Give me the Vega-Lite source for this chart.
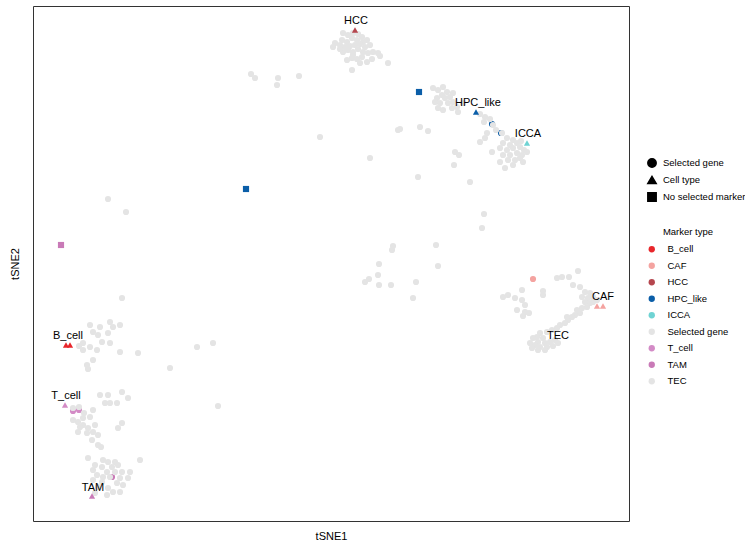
{
  "$schema": "https://vega.github.io/schema/vega-lite/v6.json",
  "width": 596,
  "height": 515,
  "autosize": {"type": "none"},
  "padding": {"left": 33, "top": 6, "right": 116, "bottom": 23},
  "config": {
    "font": "Liberation Sans",
    "view": {"stroke": "#333333", "strokeWidth": 1},
    "axis": {"labels": false, "ticks": false, "grid": false, "domain": false, "titleFontSize": 11, "titleFontWeight": "normal", "titleColor": "#000000"}
  },
  "layer": [
    {
      "data": {"values": [
        {"x":492,"y":124,"marker":"HPC_like","ptype":"Selected gene"},
        {"x":501,"y":133,"marker":"HPC_like","ptype":"Selected gene"},
        {"x":73,"y":411,"marker":"T_cell","ptype":"Selected gene"},
        {"x":79,"y":410,"marker":"T_cell","ptype":"Selected gene"},
        {"x":112,"y":477,"marker":"TAM","ptype":"Selected gene"},
        {"x":493,"y":125,"marker":"Selected gene","ptype":"Selected gene"},
        {"x":502,"y":133,"marker":"Selected gene","ptype":"Selected gene"},
        {"x":73,"y":408,"marker":"Selected gene","ptype":"Selected gene"},
        {"x":79,"y":407,"marker":"Selected gene","ptype":"Selected gene"},
        {"x":110,"y":477,"marker":"Selected gene","ptype":"Selected gene"},
        {"x":251,"y":74,"marker":"Selected gene","ptype":"Selected gene"},
        {"x":255,"y":78,"marker":"Selected gene","ptype":"Selected gene"},
        {"x":278,"y":78,"marker":"Selected gene","ptype":"Selected gene"},
        {"x":277,"y":85,"marker":"Selected gene","ptype":"Selected gene"},
        {"x":299,"y":76,"marker":"Selected gene","ptype":"Selected gene"},
        {"x":320,"y":137,"marker":"Selected gene","ptype":"Selected gene"},
        {"x":370,"y":158,"marker":"Selected gene","ptype":"Selected gene"},
        {"x":398,"y":130,"marker":"Selected gene","ptype":"Selected gene"},
        {"x":393,"y":246,"marker":"Selected gene","ptype":"Selected gene"},
        {"x":392,"y":250,"marker":"Selected gene","ptype":"Selected gene"},
        {"x":379,"y":264,"marker":"Selected gene","ptype":"Selected gene"},
        {"x":365,"y":282,"marker":"Selected gene","ptype":"Selected gene"},
        {"x":369,"y":279,"marker":"Selected gene","ptype":"Selected gene"},
        {"x":378,"y":275,"marker":"Selected gene","ptype":"Selected gene"},
        {"x":379,"y":285,"marker":"Selected gene","ptype":"Selected gene"},
        {"x":391,"y":285,"marker":"Selected gene","ptype":"Selected gene"},
        {"x":108,"y":199,"marker":"Selected gene","ptype":"Selected gene"},
        {"x":126,"y":212,"marker":"Selected gene","ptype":"Selected gene"},
        {"x":122,"y":298,"marker":"Selected gene","ptype":"Selected gene"},
        {"x":170,"y":368,"marker":"Selected gene","ptype":"Selected gene"},
        {"x":197,"y":347,"marker":"Selected gene","ptype":"Selected gene"},
        {"x":213,"y":343,"marker":"Selected gene","ptype":"Selected gene"},
        {"x":218,"y":406,"marker":"Selected gene","ptype":"Selected gene"},
        {"x":416,"y":282,"marker":"Selected gene","ptype":"Selected gene"},
        {"x":413,"y":298,"marker":"Selected gene","ptype":"Selected gene"},
        {"x":436,"y":245,"marker":"Selected gene","ptype":"Selected gene"},
        {"x":438,"y":266,"marker":"Selected gene","ptype":"Selected gene"},
        {"x":484,"y":214,"marker":"Selected gene","ptype":"Selected gene"},
        {"x":482,"y":228,"marker":"Selected gene","ptype":"Selected gene"},
        {"x":470,"y":182,"marker":"Selected gene","ptype":"Selected gene"},
        {"x":418,"y":177,"marker":"Selected gene","ptype":"Selected gene"},
        {"x":400,"y":129,"marker":"Selected gene","ptype":"Selected gene"},
        {"x":420,"y":127,"marker":"Selected gene","ptype":"Selected gene"},
        {"x":428,"y":131,"marker":"Selected gene","ptype":"Selected gene"},
        {"x":138,"y":353,"marker":"Selected gene","ptype":"Selected gene"},
        {"x":87,"y":365,"marker":"Selected gene","ptype":"Selected gene"},
        {"x":88,"y":369,"marker":"Selected gene","ptype":"Selected gene"},
        {"x":343,"y":33,"marker":"Selected gene","ptype":"Selected gene"},
        {"x":348,"y":35,"marker":"Selected gene","ptype":"Selected gene"},
        {"x":353,"y":33,"marker":"Selected gene","ptype":"Selected gene"},
        {"x":358,"y":34,"marker":"Selected gene","ptype":"Selected gene"},
        {"x":362,"y":37,"marker":"Selected gene","ptype":"Selected gene"},
        {"x":342,"y":40,"marker":"Selected gene","ptype":"Selected gene"},
        {"x":347,"y":42,"marker":"Selected gene","ptype":"Selected gene"},
        {"x":352,"y":38,"marker":"Selected gene","ptype":"Selected gene"},
        {"x":357,"y":40,"marker":"Selected gene","ptype":"Selected gene"},
        {"x":363,"y":42,"marker":"Selected gene","ptype":"Selected gene"},
        {"x":367,"y":40,"marker":"Selected gene","ptype":"Selected gene"},
        {"x":335,"y":43,"marker":"Selected gene","ptype":"Selected gene"},
        {"x":340,"y":45,"marker":"Selected gene","ptype":"Selected gene"},
        {"x":345,"y":47,"marker":"Selected gene","ptype":"Selected gene"},
        {"x":350,"y":46,"marker":"Selected gene","ptype":"Selected gene"},
        {"x":355,"y":45,"marker":"Selected gene","ptype":"Selected gene"},
        {"x":360,"y":44,"marker":"Selected gene","ptype":"Selected gene"},
        {"x":365,"y":47,"marker":"Selected gene","ptype":"Selected gene"},
        {"x":370,"y":45,"marker":"Selected gene","ptype":"Selected gene"},
        {"x":343,"y":52,"marker":"Selected gene","ptype":"Selected gene"},
        {"x":348,"y":50,"marker":"Selected gene","ptype":"Selected gene"},
        {"x":353,"y":52,"marker":"Selected gene","ptype":"Selected gene"},
        {"x":358,"y":49,"marker":"Selected gene","ptype":"Selected gene"},
        {"x":363,"y":52,"marker":"Selected gene","ptype":"Selected gene"},
        {"x":368,"y":53,"marker":"Selected gene","ptype":"Selected gene"},
        {"x":373,"y":52,"marker":"Selected gene","ptype":"Selected gene"},
        {"x":378,"y":53,"marker":"Selected gene","ptype":"Selected gene"},
        {"x":347,"y":60,"marker":"Selected gene","ptype":"Selected gene"},
        {"x":352,"y":58,"marker":"Selected gene","ptype":"Selected gene"},
        {"x":357,"y":59,"marker":"Selected gene","ptype":"Selected gene"},
        {"x":362,"y":57,"marker":"Selected gene","ptype":"Selected gene"},
        {"x":367,"y":62,"marker":"Selected gene","ptype":"Selected gene"},
        {"x":372,"y":59,"marker":"Selected gene","ptype":"Selected gene"},
        {"x":388,"y":63,"marker":"Selected gene","ptype":"Selected gene"},
        {"x":352,"y":70,"marker":"Selected gene","ptype":"Selected gene"},
        {"x":380,"y":56,"marker":"Selected gene","ptype":"Selected gene"},
        {"x":360,"y":63,"marker":"Selected gene","ptype":"Selected gene"},
        {"x":353,"y":55,"marker":"Selected gene","ptype":"Selected gene"},
        {"x":340,"y":49,"marker":"Selected gene","ptype":"Selected gene"},
        {"x":333,"y":47,"marker":"Selected gene","ptype":"Selected gene"},
        {"x":433,"y":88,"marker":"Selected gene","ptype":"Selected gene"},
        {"x":438,"y":90,"marker":"Selected gene","ptype":"Selected gene"},
        {"x":443,"y":87,"marker":"Selected gene","ptype":"Selected gene"},
        {"x":447,"y":92,"marker":"Selected gene","ptype":"Selected gene"},
        {"x":442,"y":95,"marker":"Selected gene","ptype":"Selected gene"},
        {"x":437,"y":98,"marker":"Selected gene","ptype":"Selected gene"},
        {"x":445,"y":98,"marker":"Selected gene","ptype":"Selected gene"},
        {"x":450,"y":97,"marker":"Selected gene","ptype":"Selected gene"},
        {"x":440,"y":103,"marker":"Selected gene","ptype":"Selected gene"},
        {"x":448,"y":103,"marker":"Selected gene","ptype":"Selected gene"},
        {"x":453,"y":102,"marker":"Selected gene","ptype":"Selected gene"},
        {"x":452,"y":108,"marker":"Selected gene","ptype":"Selected gene"},
        {"x":457,"y":107,"marker":"Selected gene","ptype":"Selected gene"},
        {"x":443,"y":110,"marker":"Selected gene","ptype":"Selected gene"},
        {"x":438,"y":108,"marker":"Selected gene","ptype":"Selected gene"},
        {"x":435,"y":102,"marker":"Selected gene","ptype":"Selected gene"},
        {"x":458,"y":112,"marker":"Selected gene","ptype":"Selected gene"},
        {"x":463,"y":103,"marker":"Selected gene","ptype":"Selected gene"},
        {"x":453,"y":93,"marker":"Selected gene","ptype":"Selected gene"},
        {"x":480,"y":114,"marker":"Selected gene","ptype":"Selected gene"},
        {"x":485,"y":117,"marker":"Selected gene","ptype":"Selected gene"},
        {"x":490,"y":119,"marker":"Selected gene","ptype":"Selected gene"},
        {"x":484,"y":122,"marker":"Selected gene","ptype":"Selected gene"},
        {"x":496,"y":130,"marker":"Selected gene","ptype":"Selected gene"},
        {"x":487,"y":133,"marker":"Selected gene","ptype":"Selected gene"},
        {"x":507,"y":138,"marker":"Selected gene","ptype":"Selected gene"},
        {"x":513,"y":140,"marker":"Selected gene","ptype":"Selected gene"},
        {"x":503,"y":143,"marker":"Selected gene","ptype":"Selected gene"},
        {"x":510,"y":145,"marker":"Selected gene","ptype":"Selected gene"},
        {"x":517,"y":143,"marker":"Selected gene","ptype":"Selected gene"},
        {"x":521,"y":141,"marker":"Selected gene","ptype":"Selected gene"},
        {"x":500,"y":148,"marker":"Selected gene","ptype":"Selected gene"},
        {"x":507,"y":150,"marker":"Selected gene","ptype":"Selected gene"},
        {"x":513,"y":148,"marker":"Selected gene","ptype":"Selected gene"},
        {"x":520,"y":147,"marker":"Selected gene","ptype":"Selected gene"},
        {"x":524,"y":150,"marker":"Selected gene","ptype":"Selected gene"},
        {"x":503,"y":155,"marker":"Selected gene","ptype":"Selected gene"},
        {"x":510,"y":155,"marker":"Selected gene","ptype":"Selected gene"},
        {"x":517,"y":153,"marker":"Selected gene","ptype":"Selected gene"},
        {"x":522,"y":155,"marker":"Selected gene","ptype":"Selected gene"},
        {"x":527,"y":152,"marker":"Selected gene","ptype":"Selected gene"},
        {"x":508,"y":160,"marker":"Selected gene","ptype":"Selected gene"},
        {"x":515,"y":160,"marker":"Selected gene","ptype":"Selected gene"},
        {"x":520,"y":158,"marker":"Selected gene","ptype":"Selected gene"},
        {"x":500,"y":162,"marker":"Selected gene","ptype":"Selected gene"},
        {"x":523,"y":162,"marker":"Selected gene","ptype":"Selected gene"},
        {"x":513,"y":165,"marker":"Selected gene","ptype":"Selected gene"},
        {"x":492,"y":152,"marker":"Selected gene","ptype":"Selected gene"},
        {"x":485,"y":138,"marker":"Selected gene","ptype":"Selected gene"},
        {"x":480,"y":142,"marker":"Selected gene","ptype":"Selected gene"},
        {"x":455,"y":152,"marker":"Selected gene","ptype":"Selected gene"},
        {"x":459,"y":155,"marker":"Selected gene","ptype":"Selected gene"},
        {"x":454,"y":165,"marker":"Selected gene","ptype":"Selected gene"},
        {"x":505,"y":168,"marker":"Selected gene","ptype":"Selected gene"},
        {"x":578,"y":271,"marker":"TEC","ptype":"Selected gene"},
        {"x":569,"y":277,"marker":"TEC","ptype":"Selected gene"},
        {"x":562,"y":277,"marker":"TEC","ptype":"Selected gene"},
        {"x":573,"y":285,"marker":"TEC","ptype":"Selected gene"},
        {"x":580,"y":287,"marker":"TEC","ptype":"Selected gene"},
        {"x":585,"y":292,"marker":"TEC","ptype":"Selected gene"},
        {"x":582,"y":297,"marker":"TEC","ptype":"Selected gene"},
        {"x":588,"y":298,"marker":"TEC","ptype":"Selected gene"},
        {"x":590,"y":303,"marker":"TEC","ptype":"Selected gene"},
        {"x":593,"y":302,"marker":"TEC","ptype":"Selected gene"},
        {"x":585,"y":302,"marker":"TEC","ptype":"Selected gene"},
        {"x":587,"y":307,"marker":"TEC","ptype":"Selected gene"},
        {"x":582,"y":308,"marker":"TEC","ptype":"Selected gene"},
        {"x":577,"y":310,"marker":"TEC","ptype":"Selected gene"},
        {"x":580,"y":313,"marker":"TEC","ptype":"Selected gene"},
        {"x":575,"y":315,"marker":"TEC","ptype":"Selected gene"},
        {"x":572,"y":317,"marker":"TEC","ptype":"Selected gene"},
        {"x":568,"y":320,"marker":"TEC","ptype":"Selected gene"},
        {"x":565,"y":323,"marker":"TEC","ptype":"Selected gene"},
        {"x":560,"y":325,"marker":"TEC","ptype":"Selected gene"},
        {"x":557,"y":328,"marker":"TEC","ptype":"Selected gene"},
        {"x":552,"y":330,"marker":"TEC","ptype":"Selected gene"},
        {"x":547,"y":332,"marker":"TEC","ptype":"Selected gene"},
        {"x":540,"y":333,"marker":"TEC","ptype":"Selected gene"},
        {"x":537,"y":337,"marker":"TEC","ptype":"Selected gene"},
        {"x":543,"y":338,"marker":"TEC","ptype":"Selected gene"},
        {"x":538,"y":342,"marker":"TEC","ptype":"Selected gene"},
        {"x":545,"y":343,"marker":"TEC","ptype":"Selected gene"},
        {"x":550,"y":342,"marker":"TEC","ptype":"Selected gene"},
        {"x":555,"y":340,"marker":"TEC","ptype":"Selected gene"},
        {"x":535,"y":345,"marker":"TEC","ptype":"Selected gene"},
        {"x":540,"y":347,"marker":"TEC","ptype":"Selected gene"},
        {"x":547,"y":347,"marker":"TEC","ptype":"Selected gene"},
        {"x":553,"y":346,"marker":"TEC","ptype":"Selected gene"},
        {"x":558,"y":343,"marker":"TEC","ptype":"Selected gene"},
        {"x":532,"y":348,"marker":"TEC","ptype":"Selected gene"},
        {"x":538,"y":350,"marker":"TEC","ptype":"Selected gene"},
        {"x":545,"y":350,"marker":"TEC","ptype":"Selected gene"},
        {"x":533,"y":338,"marker":"TEC","ptype":"Selected gene"},
        {"x":530,"y":343,"marker":"TEC","ptype":"Selected gene"},
        {"x":567,"y":317,"marker":"TEC","ptype":"Selected gene"},
        {"x":593,"y":297,"marker":"TEC","ptype":"Selected gene"},
        {"x":590,"y":293,"marker":"TEC","ptype":"Selected gene"},
        {"x":597,"y":300,"marker":"TEC","ptype":"Selected gene"},
        {"x":503,"y":297,"marker":"TEC","ptype":"Selected gene"},
        {"x":508,"y":295,"marker":"TEC","ptype":"Selected gene"},
        {"x":522,"y":290,"marker":"TEC","ptype":"Selected gene"},
        {"x":522,"y":300,"marker":"TEC","ptype":"Selected gene"},
        {"x":525,"y":305,"marker":"TEC","ptype":"Selected gene"},
        {"x":517,"y":310,"marker":"TEC","ptype":"Selected gene"},
        {"x":525,"y":312,"marker":"TEC","ptype":"Selected gene"},
        {"x":529,"y":313,"marker":"TEC","ptype":"Selected gene"},
        {"x":523,"y":316,"marker":"TEC","ptype":"Selected gene"},
        {"x":543,"y":291,"marker":"TEC","ptype":"Selected gene"},
        {"x":543,"y":295,"marker":"TEC","ptype":"Selected gene"},
        {"x":557,"y":278,"marker":"TEC","ptype":"Selected gene"},
        {"x":515,"y":298,"marker":"TEC","ptype":"Selected gene"},
        {"x":90,"y":325,"marker":"Selected gene","ptype":"Selected gene"},
        {"x":100,"y":327,"marker":"Selected gene","ptype":"Selected gene"},
        {"x":110,"y":322,"marker":"Selected gene","ptype":"Selected gene"},
        {"x":113,"y":327,"marker":"Selected gene","ptype":"Selected gene"},
        {"x":120,"y":325,"marker":"Selected gene","ptype":"Selected gene"},
        {"x":93,"y":332,"marker":"Selected gene","ptype":"Selected gene"},
        {"x":98,"y":335,"marker":"Selected gene","ptype":"Selected gene"},
        {"x":108,"y":333,"marker":"Selected gene","ptype":"Selected gene"},
        {"x":102,"y":342,"marker":"Selected gene","ptype":"Selected gene"},
        {"x":110,"y":343,"marker":"Selected gene","ptype":"Selected gene"},
        {"x":90,"y":347,"marker":"Selected gene","ptype":"Selected gene"},
        {"x":83,"y":350,"marker":"Selected gene","ptype":"Selected gene"},
        {"x":93,"y":360,"marker":"Selected gene","ptype":"Selected gene"},
        {"x":120,"y":352,"marker":"Selected gene","ptype":"Selected gene"},
        {"x":97,"y":350,"marker":"Selected gene","ptype":"Selected gene"},
        {"x":83,"y":343,"marker":"Selected gene","ptype":"Selected gene"},
        {"x":79,"y":346,"marker":"Selected gene","ptype":"Selected gene"},
        {"x":100,"y":395,"marker":"Selected gene","ptype":"Selected gene"},
        {"x":108,"y":395,"marker":"Selected gene","ptype":"Selected gene"},
        {"x":122,"y":392,"marker":"Selected gene","ptype":"Selected gene"},
        {"x":128,"y":398,"marker":"Selected gene","ptype":"Selected gene"},
        {"x":110,"y":403,"marker":"Selected gene","ptype":"Selected gene"},
        {"x":117,"y":403,"marker":"Selected gene","ptype":"Selected gene"},
        {"x":105,"y":403,"marker":"Selected gene","ptype":"Selected gene"},
        {"x":93,"y":410,"marker":"Selected gene","ptype":"Selected gene"},
        {"x":84,"y":413,"marker":"Selected gene","ptype":"Selected gene"},
        {"x":83,"y":418,"marker":"Selected gene","ptype":"Selected gene"},
        {"x":78,"y":422,"marker":"Selected gene","ptype":"Selected gene"},
        {"x":90,"y":417,"marker":"Selected gene","ptype":"Selected gene"},
        {"x":83,"y":425,"marker":"Selected gene","ptype":"Selected gene"},
        {"x":88,"y":428,"marker":"Selected gene","ptype":"Selected gene"},
        {"x":95,"y":425,"marker":"Selected gene","ptype":"Selected gene"},
        {"x":78,"y":432,"marker":"Selected gene","ptype":"Selected gene"},
        {"x":87,"y":433,"marker":"Selected gene","ptype":"Selected gene"},
        {"x":93,"y":432,"marker":"Selected gene","ptype":"Selected gene"},
        {"x":98,"y":435,"marker":"Selected gene","ptype":"Selected gene"},
        {"x":118,"y":428,"marker":"Selected gene","ptype":"Selected gene"},
        {"x":122,"y":423,"marker":"Selected gene","ptype":"Selected gene"},
        {"x":92,"y":440,"marker":"Selected gene","ptype":"Selected gene"},
        {"x":98,"y":445,"marker":"Selected gene","ptype":"Selected gene"},
        {"x":80,"y":427,"marker":"Selected gene","ptype":"Selected gene"},
        {"x":73,"y":420,"marker":"Selected gene","ptype":"Selected gene"},
        {"x":101,"y":447,"marker":"Selected gene","ptype":"Selected gene"},
        {"x":103,"y":460,"marker":"Selected gene","ptype":"Selected gene"},
        {"x":108,"y":462,"marker":"Selected gene","ptype":"Selected gene"},
        {"x":115,"y":462,"marker":"Selected gene","ptype":"Selected gene"},
        {"x":95,"y":465,"marker":"Selected gene","ptype":"Selected gene"},
        {"x":102,"y":467,"marker":"Selected gene","ptype":"Selected gene"},
        {"x":112,"y":467,"marker":"Selected gene","ptype":"Selected gene"},
        {"x":118,"y":465,"marker":"Selected gene","ptype":"Selected gene"},
        {"x":93,"y":470,"marker":"Selected gene","ptype":"Selected gene"},
        {"x":107,"y":472,"marker":"Selected gene","ptype":"Selected gene"},
        {"x":115,"y":472,"marker":"Selected gene","ptype":"Selected gene"},
        {"x":122,"y":472,"marker":"Selected gene","ptype":"Selected gene"},
        {"x":130,"y":472,"marker":"Selected gene","ptype":"Selected gene"},
        {"x":97,"y":475,"marker":"Selected gene","ptype":"Selected gene"},
        {"x":103,"y":477,"marker":"Selected gene","ptype":"Selected gene"},
        {"x":120,"y":478,"marker":"Selected gene","ptype":"Selected gene"},
        {"x":93,"y":480,"marker":"Selected gene","ptype":"Selected gene"},
        {"x":102,"y":482,"marker":"Selected gene","ptype":"Selected gene"},
        {"x":117,"y":483,"marker":"Selected gene","ptype":"Selected gene"},
        {"x":123,"y":485,"marker":"Selected gene","ptype":"Selected gene"},
        {"x":98,"y":487,"marker":"Selected gene","ptype":"Selected gene"},
        {"x":108,"y":488,"marker":"Selected gene","ptype":"Selected gene"},
        {"x":113,"y":492,"marker":"Selected gene","ptype":"Selected gene"},
        {"x":120,"y":492,"marker":"Selected gene","ptype":"Selected gene"},
        {"x":107,"y":495,"marker":"Selected gene","ptype":"Selected gene"},
        {"x":95,"y":493,"marker":"Selected gene","ptype":"Selected gene"},
        {"x":128,"y":478,"marker":"Selected gene","ptype":"Selected gene"},
        {"x":140,"y":460,"marker":"Selected gene","ptype":"Selected gene"},
        {"x":88,"y":458,"marker":"Selected gene","ptype":"Selected gene"},
        {"x":533,"y":279,"marker":"CAF","ptype":"Selected gene"},
        {"x":355,"y":30,"marker":"HCC","ptype":"Cell type"},
        {"x":476,"y":112,"marker":"HPC_like","ptype":"Cell type"},
        {"x":527,"y":143,"marker":"ICCA","ptype":"Cell type"},
        {"x":597,"y":306,"marker":"CAF","ptype":"Cell type"},
        {"x":603,"y":306,"marker":"CAF","ptype":"Cell type"},
        {"x":66,"y":345,"marker":"B_cell","ptype":"Cell type"},
        {"x":70,"y":345,"marker":"B_cell","ptype":"Cell type"},
        {"x":65,"y":405,"marker":"T_cell","ptype":"Cell type"},
        {"x":92,"y":496,"marker":"TAM","ptype":"Cell type"},
        {"x":419,"y":92,"marker":"HPC_like","ptype":"No selected marker"},
        {"x":246,"y":189,"marker":"HPC_like","ptype":"No selected marker"},
        {"x":61,"y":245,"marker":"TAM","ptype":"No selected marker"}
      ]},
      "mark": {"type": "point", "filled": true, "opacity": 1, "size": 38},
      "encoding": {
        "x": {"field": "x", "type": "quantitative", "scale": {"domain": [33, 629], "nice": false, "zero": false}, "axis": {"title": "tSNE1", "titlePadding": 9}},
        "y": {"field": "y", "type": "quantitative", "scale": {"domain": [6, 521], "nice": false, "zero": false, "reverse": true}, "axis": {"title": "tSNE2", "titlePadding": 13}},
        "color": {
          "field": "marker", "type": "nominal",
          "scale": {"domain": ["B_cell", "CAF", "HCC", "HPC_like", "ICCA", "Selected gene", "T_cell", "TAM", "TEC"],
                    "range": ["#E8262B", "#F4A3A0", "#B5464E", "#0B5EA8", "#6FD3D3", "#E4E4E4", "#D38BC6", "#C97AB7", "#E4E4E4"]},
          "legend": {"orient": "none", "legendX": 614, "legendY": 221, "title": "Marker type", "titleFontSize": 9.5, "titleFontWeight": "normal", "titleColor": "#000000", "titlePadding": 8, "titleAnchor": "middle", "symbolType": "circle", "symbolSize": 40, "labelFontSize": 9.5, "labelColor": "#000000", "labelOffset": 11, "rowPadding": 5.5, "padding": 0}
        },
        "shape": {
          "field": "ptype", "type": "nominal",
          "scale": {"domain": ["Selected gene", "Cell type", "No selected marker"], "range": ["circle", "triangle-up", "square"]},
          "legend": {"orient": "none", "legendX": 614, "legendY": 152, "title": null, "symbolSize": 70, "symbolFillColor": "#000000", "symbolStrokeColor": "#000000", "labelFontSize": 9.5, "labelColor": "#000000", "labelOffset": 6, "labelLimit": 200, "rowPadding": 2, "padding": 0}
        }
      }
    },
    {
      "data": {"values": [
        {"x": 356, "y": 21, "label": "HCC"},
        {"x": 478, "y": 103, "label": "HPC_like"},
        {"x": 528, "y": 134, "label": "ICCA"},
        {"x": 603, "y": 297, "label": "CAF"},
        {"x": 558, "y": 336, "label": "TEC"},
        {"x": 68, "y": 336, "label": "B_cell"},
        {"x": 66, "y": 396, "label": "T_cell"},
        {"x": 93, "y": 488, "label": "TAM"}
      ]},
      "mark": {"type": "text", "fontSize": 11, "color": "#000000", "baseline": "middle", "align": "center"},
      "encoding": {
        "x": {"field": "x", "type": "quantitative"},
        "y": {"field": "y", "type": "quantitative"},
        "text": {"field": "label", "type": "nominal"}
      }
    }
  ]
}
